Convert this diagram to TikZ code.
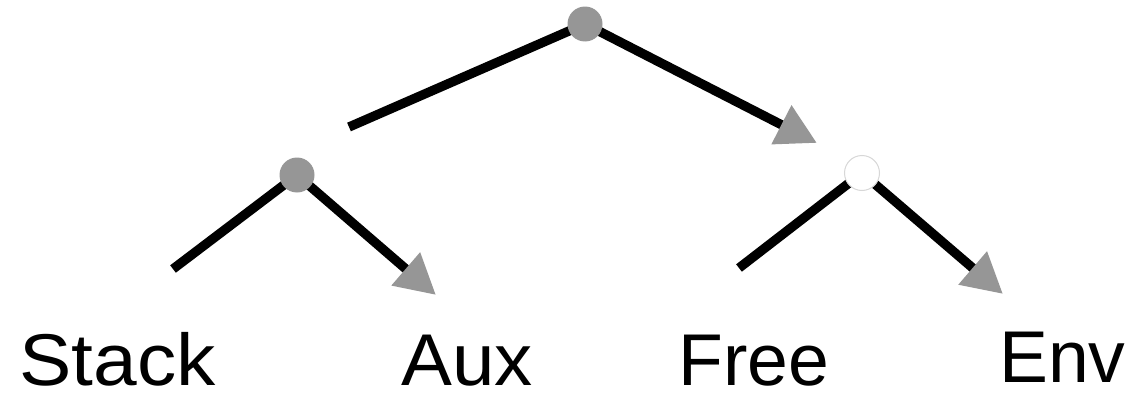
\documentclass[tikz,border=0pt]{standalone}
\usepackage{fontspec}
\setmainfont{Liberation Sans}
\usetikzlibrary{arrows.meta,backgrounds}
\definecolor{nodegray}{RGB}{150,150,150}
\definecolor{rimgray}{RGB}{215,215,215}
\tikzset{
  treenode/.style={circle, fill=nodegray, inner sep=0pt, minimum size=35*0.75pt},
  opennode/.style={circle, fill=white, draw=rimgray, line width=0.75pt, inner sep=0pt, minimum size=35*0.75pt},
  branch/.style={line width=7pt, black},
  pointer/.style={branch, -{Triangle[length=30pt, width=31pt, color=nodegray]}},
  leaf/.style={font=\fontsize{55}{60}\selectfont, anchor=base west, inner sep=0pt, text depth=0pt}
}
\begin{document}
\begin{tikzpicture}[x=0.75pt, y=-0.75pt]
  \useasboundingbox (0,0) rectangle (1136,396);

  % tree nodes
  \node[treenode] (root) at (585,24) {};
  \node[treenode] (left) at (297,175) {};
  \node[opennode] (right) at (862,173) {};

  % free ends of the branches
  \coordinate (rootstub) at (349,127);
  \coordinate (rootptr) at (817,143);
  \coordinate (stackend) at (173,269);
  \coordinate (auxptr) at (436,295);
  \coordinate (freeend) at (739,268);
  \coordinate (envptr) at (1003,294);

  \begin{pgfonlayer}{background}
    \draw[branch] (rootstub) -- (root.center);
    \draw[pointer] (root.center) -- (rootptr);
    \draw[branch] (stackend) -- (left.center);
    \draw[pointer] (left.center) -- (auxptr);
    \draw[branch] (freeend) -- (right.center);
    \draw[pointer] (right.center) -- (envptr);
  \end{pgfonlayer}

  % leaf labels
  \node[leaf] (stack) at (19,385) {\scalebox{1.07}[1]{Stack}};
  \node[leaf] (aux) at (401,385) {\scalebox{1.04}[1]{Aux}};
  \node[leaf] (free) at (678,385) {Free};
  \node[leaf] (env) at (999,382) {Env};
\end{tikzpicture}
\end{document}
